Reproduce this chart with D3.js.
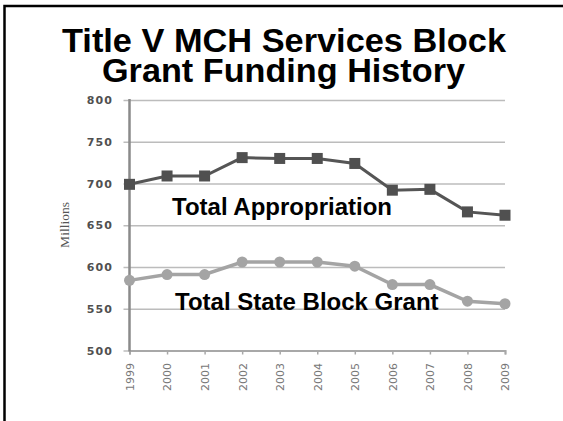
<!DOCTYPE html>
<html>
<head>
<meta charset="utf-8">
<script src="https://cdn.jsdelivr.net/npm/d3@7"></script>
<style>
  body { margin: 0; background: #fff; }
</style>
</head>
<body>
<div id="mychart"></div>
<script>
// title v funding history, two series in millions

const chartTarget = "#mychart"

// data
const years = ["1999", "2000", "2001", "2002", "2003", "2004", "2005", "2006", "2007", "2008", "2009"]
const appropriation = [699, 709, 709, 731, 730, 730, 724, 692, 693, 666, 662]
const stateBlockGrant = [584, 591, 591, 606, 606, 606, 601, 579, 579, 559, 556]
const yTicks = [500, 550, 600, 650, 700, 750, 800]
const titleLines = ["Title V MCH Services Block", "Grant Funding History"]

// size
const chartWidth = 563
const chartHeight = 421

// plot box
const marginLeft = 129.5
const marginRight = 58
const marginTop = 100
const marginBottom = 70.5

// title placement (center x, baseline y, width)
const titleX = [284, 283.5]
const titleY = [52.3, 82]
const titleW = [444, 363]

const xScale = d3.scalePoint(years, [marginLeft, chartWidth - marginRight])
const yScale = d3.scaleLinear([500, 800], [chartHeight - marginBottom, marginTop])

const svg = d3.select(chartTarget)
  .append("svg")
  .attr("width", chartWidth)
  .attr("height", chartHeight)
  .attr("viewBox", [0, 0, chartWidth, chartHeight])

svg.append("rect")
  .attr("width", chartWidth)
  .attr("height", chartHeight)
  .attr("fill", "#fff")

// frame, only left and top are visible
svg.append("path")
  .attr("d", `M4.5,${chartHeight} V6 H${chartWidth}`)
  .attr("fill", "none")
  .attr("stroke", "#000")
  .attr("stroke-width", 2.5)

// title
svg.append("g")
  .attr("font-family", "Liberation Sans, Arial, sans-serif")
  .attr("font-weight", "bold")
  .attr("font-size", "34px")
  .attr("text-anchor", "middle")
  .selectAll("text")
  .data(titleLines)
  .join("text")
  .attr("x", (d, i) => titleX[i])
  .attr("y", (d, i) => titleY[i])
  .attr("textLength", (d, i) => titleW[i])
  .attr("lengthAdjust", "spacingAndGlyphs")
  .text(d => d)

// y axis with gridlines
svg.append("g")
  .attr("transform", `translate(${marginLeft},0)`)
  .call(d3.axisLeft(yScale)
    .tickValues(yTicks)
    .tickSize(-(chartWidth - marginRight - marginLeft))
    .tickPadding(16.5))
  .call(g => g.select(".domain").remove())
  .call(g => g.selectAll(".tick line")
    .attr("stroke", "#bcbcbc")
    .attr("stroke-width", 1.5)
    .attr("x1", -6))
  .call(g => g.selectAll(".tick text")
    .attr("fill", "#505050")
    .attr("font-family", "DejaVu Sans, sans-serif")
    .attr("font-size", "11px")
    .attr("font-weight", "bold")
    .attr("letter-spacing", "1.1px"))

// x axis
svg.append("g")
  .attr("transform", `translate(0,${chartHeight - marginBottom})`)
  .call(d3.axisBottom(xScale).tickSize(4).tickPadding(3))
  .call(g => g.select(".domain")
    .attr("stroke", "#a8a8a8")
    .attr("stroke-width", 2))
  .call(g => g.selectAll(".tick line")
    .attr("stroke", "#a8a8a8")
    .attr("stroke-width", 1.5))
  .call(g => g.selectAll(".tick text")
    .attr("fill", "#777")
    .attr("font-family", "DejaVu Sans, sans-serif")
    .attr("font-size", "11px")
    .attr("text-anchor", "end")
    .attr("dy", "0.35em")
    .attr("transform", "translate(0,12.5) rotate(-90)")
    .attr("x", 0)
    .attr("y", 0))

// vertical axis line
svg.append("line")
  .attr("x1", marginLeft)
  .attr("x2", marginLeft)
  .attr("y1", yScale(800) - 1)
  .attr("y2", yScale(500) + 1)
  .attr("stroke", "#8a8a8a")
  .attr("stroke-width", 2.5)

// y axis title
svg.append("text")
  .attr("transform", `translate(69,225) rotate(-90)`)
  .attr("text-anchor", "middle")
  .attr("font-family", "Liberation Serif, serif")
  .attr("font-size", "13.5px")
  .attr("fill", "#555")
  .text("Millions")

const line = d3.line()
  .x((d, i) => xScale(years[i]))
  .y(d => yScale(d))

// state block grant series
svg.append("path")
  .datum(stateBlockGrant)
  .attr("d", line)
  .attr("fill", "none")
  .attr("stroke", "#a4a4a4")
  .attr("stroke-width", 3.5)

svg.append("g")
  .selectAll("circle")
  .data(stateBlockGrant)
  .join("circle")
  .attr("cx", (d, i) => xScale(years[i]))
  .attr("cy", d => yScale(d))
  .attr("r", 5.5)
  .attr("fill", "#a4a4a4")

// appropriation series
svg.append("path")
  .datum(appropriation)
  .attr("d", line)
  .attr("fill", "none")
  .attr("stroke", "#555")
  .attr("stroke-width", 3)

const sq = 11
svg.append("g")
  .selectAll("rect")
  .data(appropriation)
  .join("rect")
  .attr("x", (d, i) => xScale(years[i]) - sq / 2)
  .attr("y", d => yScale(d) - sq / 2)
  .attr("width", sq)
  .attr("height", sq)
  .attr("fill", "#505050")

// series labels
svg.append("text")
  .attr("x", 172)
  .attr("y", 215)
  .attr("font-family", "Liberation Sans, Arial, sans-serif")
  .attr("font-weight", "bold")
  .attr("font-size", "24px")
  .text("Total Appropriation")

svg.append("text")
  .attr("x", 175)
  .attr("y", 310)
  .attr("font-family", "Liberation Sans, Arial, sans-serif")
  .attr("font-weight", "bold")
  .attr("font-size", "24px")
  .text("Total State Block Grant")
</script>
</body>
</html>
